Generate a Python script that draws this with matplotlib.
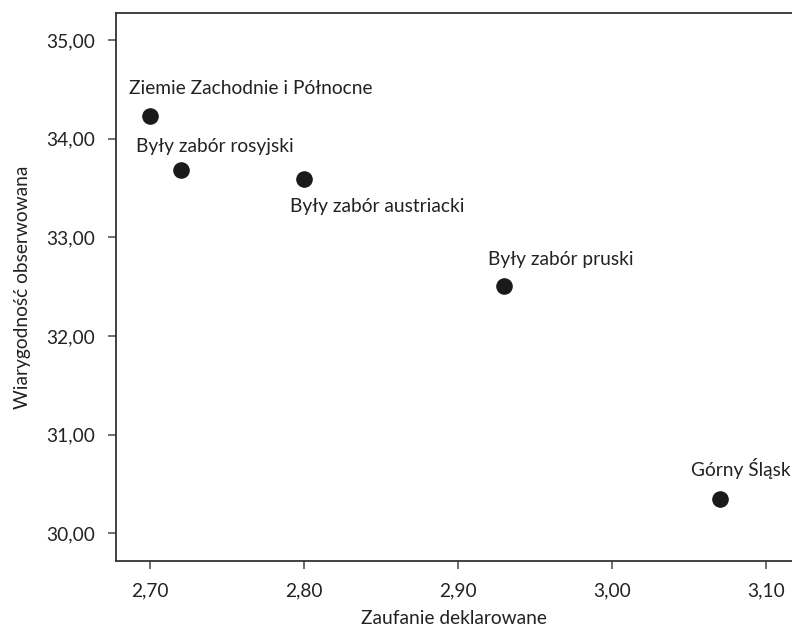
import matplotlib
matplotlib.use('Agg')
import matplotlib.pyplot as plt
from matplotlib.ticker import FuncFormatter

# data
regions = ['Ziemie Zachodnie i Północne', 'Były zabór rosyjski', 'Były zabór austriacki',
           'Były zabór pruski', 'Górny Śląsk']
zaufanie = [2.70, 2.72, 2.80, 2.93, 3.07]
wiarygodnosc = [34.23, 33.68, 33.59, 32.51, 30.35]

# label offsets (pixels, left edge / baseline relative to point)
offsets = [(-21, 22), (-45, 18), (-14, -33), (-16, 21), (-29, 23)]

plt.rcParams['font.family'] = ['Lato', 'DejaVu Sans']
txt = '#222222'
fs = 13.8

fig = plt.figure(figsize=(7.92, 6.29), dpi=100)
ax = fig.add_axes([0.146, 0.108, 0.854, 0.871])

ax.scatter(zaufanie, wiarygodnosc, s=120, color='#1a1a1a', zorder=3)
for name, x, y, off in zip(regions, zaufanie, wiarygodnosc, offsets):
    ax.annotate(name, (x, y), xytext=off, textcoords='offset pixels',
                ha='left', va='baseline', fontsize=fs, color=txt)

ax.set_xlim(2.6777, 3.1169)
ax.set_ylim(29.719, 35.274)
ax.set_xticks([2.7, 2.8, 2.9, 3.0, 3.1])
ax.set_yticks([30, 31, 32, 33, 34, 35])
fmt = FuncFormatter(lambda v, p: f'{v:.2f}'.replace('.', ','))
ax.xaxis.set_major_formatter(fmt)
ax.yaxis.set_major_formatter(fmt)
ax.tick_params(direction='out', length=6, width=1.2, color='#555555',
               labelsize=fs, labelcolor=txt, pad=9)

for s in ['top', 'bottom', 'left']:
    ax.spines[s].set_color('#333333')
    ax.spines[s].set_linewidth(1.3)
ax.spines['right'].set_visible(False)

ax.set_xlabel('Zaufanie deklarowane', fontsize=fs, color=txt, labelpad=8)
ax.set_ylabel('Wiarygodność obserwowana', fontsize=fs, color=txt, labelpad=11)

plt.savefig('out.png', dpi=100)
